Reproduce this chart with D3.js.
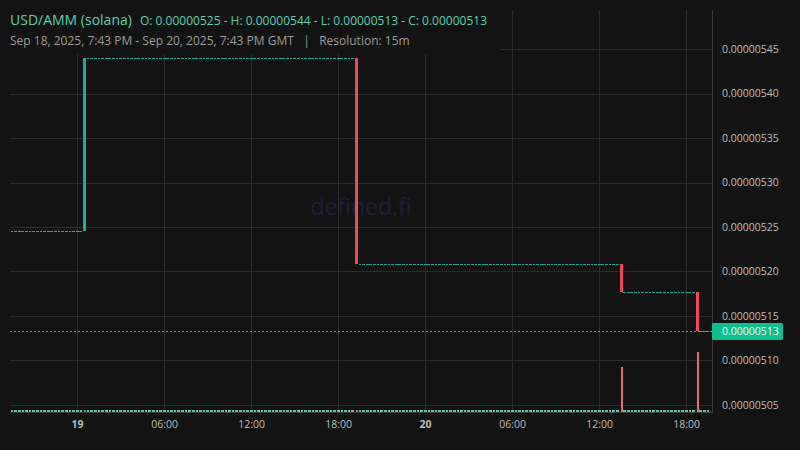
<!DOCTYPE html>
<html>
<head>
<meta charset="utf-8">
<script src="https://cdn.jsdelivr.net/npm/d3@7"></script>
<style>
  html, body { margin: 0; padding: 0; background: #131313; }
  svg { display: block; }
  text { font-family: "Open Sans", "Noto Sans", sans-serif; }
</style>
</head>
<body>
<svg id="chart" width="800" height="450"></svg>
<script>
// ---------------- DATA ----------------
const pairName = "USD/AMM (solana)";
const ohlcSummary = "O: 0.00000525 - H: 0.00000544 - L: 0.00000513 - C: 0.00000513";
const rangeText = "Sep 18, 2025, 7:43 PM - Sep 20, 2025, 7:43 PM GMT   |   Resolution: 15m";
const watermark = "defined.fi";

// visible time range
const timeStart = "2025-09-18T19:43:00Z";
const timeEnd = "2025-09-20T19:43:00Z";

// flat stretches of 15m candles (open = high = low = close, no volume)
const flatStart = ["2025-09-18T19:30:00Z", "2025-09-19T00:45:00Z", "2025-09-19T19:30:00Z", "2025-09-20T13:45:00Z", "2025-09-20T19:00:00Z"];
const flatEnd   = ["2025-09-19T00:15:00Z", "2025-09-19T19:00:00Z", "2025-09-20T13:15:00Z", "2025-09-20T18:30:00Z", "2025-09-20T19:30:00Z"];
const flatPrice = [5.2455e-6, 5.4400e-6, 5.2080e-6, 5.1775e-6, 5.1330e-6];

// candles where the price moved
const moveTime   = ["2025-09-19T00:30:00Z", "2025-09-19T19:15:00Z", "2025-09-20T13:30:00Z", "2025-09-20T18:45:00Z"];
const moveOpen   = [5.2455e-6, 5.4400e-6, 5.2080e-6, 5.1775e-6];
const moveClose  = [5.4400e-6, 5.2080e-6, 5.1775e-6, 5.1330e-6];
const moveVolume = [0.6, 1.5, 33, 44];

const lastPrice = 5.133e-6;
const lastPriceLabel = "0.00000513";

const priceTicks = [5.05e-6, 5.10e-6, 5.15e-6, 5.20e-6, 5.25e-6, 5.30e-6, 5.35e-6, 5.40e-6, 5.45e-6];
const timeTicks = ["2025-09-19T00:00:00Z", "2025-09-19T06:00:00Z", "2025-09-19T12:00:00Z", "2025-09-19T18:00:00Z",
                   "2025-09-20T00:00:00Z", "2025-09-20T06:00:00Z", "2025-09-20T12:00:00Z", "2025-09-20T18:00:00Z"];
const timeTickLabels = ["19", "06:00", "12:00", "18:00", "20", "06:00", "12:00", "18:00"];
const timeTickBold = [true, false, false, false, true, false, false, false];

// ---------------- BUILD CANDLES ----------------
const every15 = d3.utcMinute.every(15);
let candles = [];
flatStart.forEach((s, i) => {
  const ts = every15.range(new Date(s), new Date(+new Date(flatEnd[i]) + 1));
  ts.forEach(t => candles.push({t, o: flatPrice[i], c: flatPrice[i], v: 0}));
});
moveTime.forEach((s, i) => candles.push({t: new Date(s), o: moveOpen[i], c: moveClose[i], v: moveVolume[i]}));
candles.sort((a, b) => a.t - b.t);

// ---------------- LAYOUT ----------------
const svg = d3.select("#chart");
const W = 800, H = 450;
const plotL = 10, plotR = 712, plotT = 10, plotB = 412;
const colors = {
  bg: "#131313", grid: "#2c2c2c", axis: "#3c3c3c", tick: "#bdbdbd",
  up: "#22ab94", down: "#f0475a", flat: "#26a595", volFlat: "#5cc4a6", volDown: "#e36a7d",
  title: "#5fcfae", sub: "#9c9c9c", label: "#0fbf8e", wm: "#1f1e3b"
};

svg.append("rect").attr("width", W).attr("height", H).attr("fill", colors.bg);

const x = d3.scaleUtc()
  .domain([new Date(timeStart), new Date(timeEnd)])
  .range([15, 711]);
const y = d3.scaleLinear()
  .domain([5.05e-6, 5.45e-6])
  .range([405, 49]);
const vy = d3.scaleLinear()
  .domain([0, d3.max(candles, d => d.v)])
  .range([plotB, plotB - 60]);

// clip
svg.append("clipPath").attr("id", "plotclip")
  .append("rect").attr("x", plotL).attr("y", plotT).attr("width", plotR - plotL).attr("height", plotB - plotT);

// grid
const grid = svg.append("g");
grid.selectAll("line.h").data(priceTicks).join("line")
  .attr("x1", plotL).attr("x2", plotR)
  .attr("y1", d => Math.round(y(d)) + 0.5).attr("y2", d => Math.round(y(d)) + 0.5)
  .attr("stroke", colors.grid).attr("stroke-width", 1);
grid.selectAll("line.v").data(timeTicks).join("line")
  .attr("x1", d => Math.round(x(new Date(d))) + 0.5).attr("x2", d => Math.round(x(new Date(d))) + 0.5)
  .attr("y1", plotT).attr("y2", plotB)
  .attr("stroke", colors.grid).attr("stroke-width", 1);

// watermark
svg.append("text").attr("x", 361).attr("y", 215)
  .attr("text-anchor", "middle").attr("font-size", 23).attr("fill", colors.wm)
  .text(watermark);

// title mask
svg.append("rect").attr("x", 0).attr("y", 0).attr("width", 500).attr("height", 54).attr("fill", colors.bg);

const plot = svg.append("g").attr("clip-path", "url(#plotclip)");

// volume
plot.selectAll("rect.vol").data(candles).join("rect")
  .attr("shape-rendering", "crispEdges")
  .attr("x", d => d.v > 0 ? Math.round(x(d.t)) - 0.5 : x(d.t) - 1.2)
  .attr("width", d => d.v > 0 ? 2 : 2.6)
  .attr("y", d => d.v > 0 ? Math.min(vy(d.v), plotB - 2) : plotB - 1.6)
  .attr("height", d => d.v > 0 ? Math.max(2, plotB - vy(d.v)) : 1.6)
  .attr("fill", d => d.v > 0 ? (d.c < d.o ? colors.volDown : colors.up) : colors.volFlat);

// candles
plot.selectAll("rect.candle").data(candles).join("rect")
  .attr("shape-rendering", "crispEdges")
  .attr("x", d => d.c !== d.o ? Math.round(x(d.t)) - 1 : x(d.t) - 1.3)
  .attr("width", d => d.c !== d.o ? 3 : 2.7)
  .attr("y", d => y(Math.max(d.o, d.c)))
  .attr("height", d => Math.max(1, Math.abs(y(d.o) - y(d.c))))
  .attr("fill", d => d.c < d.o ? colors.down : (d.c > d.o ? colors.up : colors.flat));

// last price dotted line
svg.append("line")
  .attr("x1", plotL).attr("x2", plotR)
  .attr("y1", Math.round(y(lastPrice)) + 0.5).attr("y2", Math.round(y(lastPrice)) + 0.5)
  .attr("stroke", "#39b59c").attr("stroke-width", 1).attr("stroke-dasharray", "2,2");

// axes lines
svg.append("line").attr("x1", plotR + 0.5).attr("x2", plotR + 0.5).attr("y1", plotT).attr("y2", plotB + 1)
  .attr("stroke", colors.axis);
svg.append("line").attr("x1", plotL).attr("x2", plotR).attr("y1", plotB + 0.5).attr("y2", plotB + 0.5)
  .attr("stroke", colors.axis);

// right axis labels
const yAxis = d3.axisRight(y).tickValues(priceTicks).tickSize(0).tickPadding(0)
  .tickFormat(d => d.toFixed(8));
const ya = svg.append("g").attr("transform", `translate(${plotR + 10},0)`).call(yAxis);
ya.select(".domain").remove();
ya.selectAll("text").attr("fill", colors.tick).attr("font-size", 10.5)
  .attr("font-family", "'Open Sans', 'Noto Sans', sans-serif");

// last price label
svg.append("rect").attr("x", plotR).attr("y", 323).attr("width", 71).attr("height", 17).attr("rx", 1.5)
  .attr("fill", colors.label);
svg.append("text").attr("x", plotR + 10).attr("y", y(lastPrice)).attr("dy", "0.35em")
  .attr("font-size", 10.5).attr("fill", "#effaf5").text(lastPriceLabel);

// bottom axis labels
const xAxis = d3.axisBottom(x).tickValues(timeTicks.map(d => new Date(d))).tickSize(0).tickPadding(0)
  .tickFormat((d, i) => timeTickLabels[i]);
const xa = svg.append("g").attr("transform", `translate(0,${plotB + 9})`).call(xAxis);
xa.select(".domain").remove();
xa.selectAll("text").attr("fill", colors.tick).attr("font-size", 10.5)
  .attr("font-family", "'Open Sans', 'Noto Sans', sans-serif")
  .attr("font-weight", (d, i) => timeTickBold[i] ? 700 : 400);

// titles
svg.append("text").attr("x", 10).attr("y", 25).attr("font-size", 14).attr("fill", colors.title).text(pairName);
svg.append("text").attr("x", 140).attr("y", 25).attr("font-size", 12).attr("fill", colors.title).text(ohlcSummary);
svg.append("text").attr("x", 10).attr("y", 45).attr("font-size", 12).attr("fill", colors.sub)
  .attr("xml:space", "preserve").style("white-space", "pre").text(rangeText);
</script>
</body>
</html>
